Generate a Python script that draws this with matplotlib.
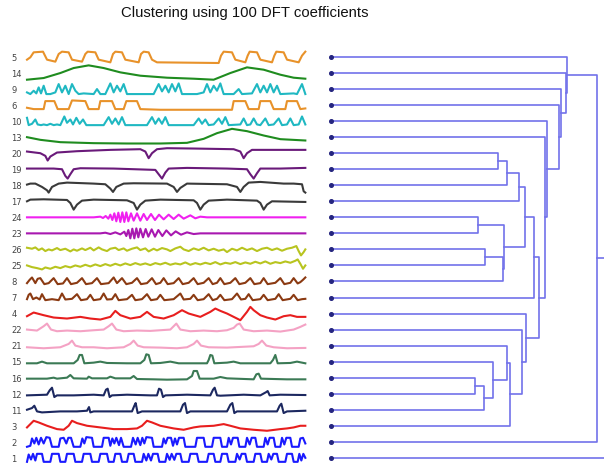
import matplotlib.pyplot as plt

TITLE = "Clustering using 100 DFT coefficients"

# leaf order of the dendrogram, top to bottom
leaf_order = ["5", "14", "9", "6", "10", "13", "20", "19", "18", "17", "24", "23", "26",
              "25", "8", "7", "4", "22", "21", "15", "16", "12", "11", "3", "2", "1"]

# traces as (time step, value) pairs
s5 = [(0, -8), (10, -1), (20, 14), (48, 16), (60, -8), (85, -14), (95, 9), (105, 16), (125, 14),
      (135, -8), (165, -14), (175, 9), (182, 16), (205, 14), (215, -8), (250, -16), (258, 9),
      (265, 16), (285, 14), (295, -8), (335, -16), (342, 9), (350, 16), (365, 14), (375, -8),
      (390, -16), (575, -18), (582, 4), (590, 16), (615, 14), (625, -8), (655, -16), (662, 4),
      (668, 16), (690, 14), (700, -8), (735, -16), (742, 4), (748, 16), (770, 14), (780, -8),
      (815, -16), (825, 4), (835, 16)]
s14 = [(0, -20), (50, -15), (100, 0), (140, 15), (185, 23), (230, 15), (280, 2), (340, -8),
       (420, -14), (500, -17), (560, -20), (610, 0), (660, 17), (710, 10), (760, -5), (800, -14),
       (835, -17)]
s9 = [(0, -10), (10, -15), (20, -5), (28, -13), (35, 5), (42, -13), (50, 10), (58, -15), (70, -15),
      (85, -10), (95, 15), (105, -10), (115, 10), (125, -15), (135, 15), (145, -5), (155, -15),
      (170, -13), (200, -15), (210, 0), (220, -15), (235, -15), (250, 17), (260, -10), (270, 10),
      (280, -7), (290, 15), (300, -15), (315, -15), (380, -15), (395, 15), (405, -7), (415, 10),
      (425, -10), (435, 15), (445, -7), (455, 17), (465, -15), (510, -15), (530, -10), (540, 15),
      (550, -10), (560, 10), (570, -5), (580, 17), (590, -15), (620, -15), (635, 0), (645, -15),
      (675, -13), (690, 15), (700, -10), (710, 10), (720, -10), (730, 15), (740, -10), (750, 10),
      (760, -15), (800, -13), (810, -15), (820, 5), (825, 15), (835, -15)]
s6 = [(0, -8), (20, -12), (50, -12), (55, 12), (82, 12), (92, -12), (125, -12), (135, 14),
      (175, 12), (185, -12), (215, -12), (220, 12), (255, 12), (265, -12), (290, -12), (298, 12),
      (330, 12), (340, -12), (400, -14), (615, -14), (620, 12), (655, 12), (665, -12), (695, -12),
      (700, 12), (730, 12), (740, -12), (775, -12), (780, 12), (810, 12), (820, -12), (835, -10)]
s10 = [(0, 10), (5, -12), (15, -8), (25, 5), (32, -10), (42, -12), (50, -10), (60, -12), (70, -8),
       (80, -12), (90, -10), (100, -12), (112, 14), (120, -5), (130, 5), (138, -10), (148, 10),
       (158, -8), (168, 5), (178, -12), (230, -12), (245, 12), (255, -8), (265, 8), (275, -10),
       (285, 12), (295, -12), (360, -12), (375, 12), (385, -8), (395, 8), (405, -8), (415, 12),
       (425, -12), (500, -12), (515, 8), (525, -8), (535, 5), (545, -12), (560, -10), (575, 8),
       (585, -8), (595, 12), (605, -12), (640, -10), (650, 8), (660, -12), (670, -10), (680, 8),
       (690, -10), (700, -12), (715, 8), (725, -12), (740, -10), (755, 8), (765, -12), (780, -10),
       (790, 8), (800, -12), (815, -10), (825, 14), (835, -10)]
s13 = [(0, 0), (40, -8), (100, -15), (200, -18), (300, -19), (400, -19), (480, -17), (530, -5),
       (570, 12), (615, 25), (660, 18), (710, 5), (760, -6), (835, -10)]
s20 = [(0, 5), (40, 0), (55, -8), (62, -22), (70, -10), (90, 2), (150, 6), (250, 10), (340, 12),
       (355, 5), (365, -15), (375, 0), (390, 12), (420, 15), (500, 14), (620, 12), (640, 5),
       (650, -15), (660, 0), (675, 10), (740, 10), (835, 10)]
s19 = [(0, 2), (80, 2), (105, 0), (115, -20), (122, -28), (130, -15), (140, 0), (160, 3), (260, 2),
       (385, -2), (395, -15), (405, -28), (415, -10), (425, 2), (480, 4), (600, 2), (660, 0),
       (670, -15), (680, -28), (690, -12), (700, 2), (760, 2), (835, 4)]
s18 = [(0, 2), (10, 5), (25, 5), (45, -5), (60, -15), (65, -22), (75, -5), (95, 5), (120, 8),
       (200, 5), (235, 3), (250, -10), (258, -20), (268, -5), (290, 5), (320, 6), (420, 5),
       (440, -5), (450, -20), (460, -8), (480, 5), (600, 3), (630, -5), (640, -20), (650, -5),
       (665, 8), (700, 10), (770, 5), (800, 5), (825, 3), (830, -18), (835, -22)]
s17 = [(0, 0), (10, 5), (50, 6), (120, 4), (130, -5), (140, -25), (150, -10), (165, 2), (200, 5),
       (300, 3), (320, -5), (330, -25), (340, -10), (355, 2), (400, 5), (500, 3), (510, -5),
       (520, -25), (530, -10), (545, 2), (600, 5), (690, 2), (700, -5), (710, -25), (720, -10),
       (735, 0), (835, -2)]
s24 = [(0, 0), (200, 0), (220, 2), (228, -2), (236, 4), (244, -4), (250, 8), (256, -8), (262, 12),
       (268, -12), (274, 14), (280, -14), (286, 15), (292, -14), (298, 15), (304, -12), (312, 12),
       (320, -10), (330, 12), (340, -10), (350, 10), (360, -8), (372, 10), (384, -8), (396, 8),
       (410, -6), (425, 8), (440, -5), (455, 8), (470, -4), (490, 6), (505, -3), (520, 2),
       (540, 0), (835, 0)]
s23 = [(0, 0), (220, 0), (235, 2), (250, -2), (265, 3), (280, -3), (292, 5), (298, -8), (304, 10),
       (310, -15), (316, 14), (322, -15), (328, 15), (334, -12), (340, 14), (348, -12), (356, 13),
       (364, -10), (374, 12), (384, -10), (394, 10), (406, -8), (418, 9), (432, -6), (446, 6),
       (462, -4), (480, 3), (500, -2), (520, 0), (835, 0)]
s26 = [(0, 5), (15, 2), (25, 6), (35, -2), (45, 3), (55, -5), (65, 0), (75, -3), (90, 4),
       (100, -2), (115, 2), (130, -6), (140, 0), (150, -4), (165, 3), (175, -2), (190, 5),
       (200, -3), (215, 6), (225, 0), (240, -5), (250, 2), (265, 5), (275, -2), (290, 3),
       (300, -4), (315, 2), (330, 6), (340, -2), (355, 3), (365, -6), (380, 2), (390, -3),
       (405, 4), (420, 0), (430, -5), (445, 3), (460, 8), (470, 0), (485, -5), (500, 3),
       (515, -2), (530, 5), (545, -3), (560, 2), (575, -4), (590, 0), (600, -8), (615, 2),
       (630, -3), (645, 5), (660, -2), (675, 3), (690, -5), (705, 2), (720, 5), (735, -2),
       (750, 3), (765, -4), (780, 2), (795, 5), (808, 10), (815, -5), (822, -18), (830, -8),
       (835, 0)]
s25 = [(0, 0), (15, -5), (30, -8), (45, -12), (55, -6), (70, -10), (85, -4), (100, -8), (115, -2),
       (130, -6), (145, 0), (160, -4), (175, 2), (190, -3), (205, 3), (220, -2), (235, 4),
       (250, -1), (265, 5), (280, 0), (295, 6), (310, 1), (325, 7), (340, 2), (355, 6), (370, 1),
       (385, 7), (400, 3), (415, 8), (430, 2), (445, 6), (460, 3), (475, 9), (490, 2), (505, 7),
       (520, 3), (535, 8), (550, 4), (565, 10), (580, 3), (595, 8), (610, 5), (625, 10), (640, 4),
       (655, 9), (670, 5), (685, 11), (700, 6), (715, 12), (730, 5), (745, 10), (760, 7),
       (775, 12), (790, 8), (805, 14), (812, 18), (820, 5), (828, -10), (835, 0)]
s8 = [(0, -5), (8, 5), (15, 12), (25, -5), (32, 8), (40, 10), (52, -8), (65, -5), (80, 10),
      (92, -8), (108, -6), (120, 10), (132, -8), (150, -4), (165, 10), (177, -8), (195, -5),
      (210, 10), (222, -8), (245, -5), (260, 12), (270, -5), (285, 10), (298, -8), (315, -4),
      (330, 10), (342, -8), (360, -5), (375, 10), (387, -8), (400, -4), (410, 10), (422, -8),
      (440, -5), (455, 10), (467, -8), (485, -4), (500, 10), (512, -8), (530, -4), (545, 10),
      (557, -8), (570, -4), (580, 10), (592, -8), (610, -4), (625, 10), (637, -8), (655, -4),
      (670, 10), (682, -8), (700, -5), (710, 10), (722, -8), (745, -4), (760, 10), (772, -8),
      (790, -4), (800, 10), (812, -6), (820, -2), (828, 5), (835, 12)]
s7 = [(0, -5), (5, 8), (10, 12), (18, -5), (28, 0), (38, -6), (45, 10), (55, -8), (75, -5),
      (95, -8), (105, 12), (115, -6), (135, -4), (150, 10), (162, -8), (180, -5), (190, 8),
      (200, -8), (220, -5), (230, 12), (240, -6), (255, -5), (265, 10), (275, -8), (300, -5),
      (315, 8), (325, -8), (345, -5), (360, 10), (372, -8), (390, -5), (400, 8), (412, -8),
      (440, -5), (460, 12), (470, -6), (490, -4), (500, 8), (512, -8), (530, -5), (545, 10),
      (557, -8), (570, -4), (580, 8), (592, -8), (615, -5), (630, 12), (642, -6), (655, -4),
      (665, 10), (677, -8), (700, -5), (710, 8), (722, -8), (745, -4), (755, 10), (767, -8),
      (790, -4), (800, 8), (812, -8), (825, -5), (835, -4)]
s4 = [(0, -8), (20, 3), (50, -5), (80, -12), (120, -15), (160, -10), (190, -15), (220, -18),
      (250, -10), (265, 8), (280, -5), (310, -15), (340, -10), (360, 5), (380, -10), (410, -15),
      (440, -5), (465, 10), (485, 0), (520, -10), (550, 5), (565, 15), (580, 8), (600, 0),
      (640, -20), (660, 5), (670, 20), (680, 10), (700, -5), (720, -12), (745, -18), (770, -8),
      (790, -5), (810, -10), (835, -10)]
s22 = [(0, 0), (30, -3), (50, 10), (60, 18), (72, 0), (90, -5), (120, -3), (160, -5), (200, -2),
       (230, 0), (245, 10), (255, 18), (268, 0), (290, -5), (330, -3), (370, -4), (400, -2),
       (430, 0), (440, 10), (448, 18), (460, 0), (490, -5), (530, -3), (570, -5), (600, -2),
       (620, 5), (630, 15), (638, 18), (650, 0), (680, -5), (720, -3), (760, -6), (800, 0),
       (820, 8), (835, 15)]
s21 = [(0, -5), (50, -8), (100, -5), (125, 5), (135, 15), (145, 0), (165, -5), (200, -5),
       (240, -8), (290, -5), (310, 5), (320, 15), (332, 0), (350, -5), (400, -6), (450, -8),
       (480, -5), (500, 5), (510, 15), (522, 0), (545, -5), (600, -6), (640, -4), (680, -2),
       (695, 5), (705, 15), (718, 0), (740, -5), (780, -8), (835, -7)]
s15 = [(0, -5), (30, -5), (45, 0), (60, -5), (140, -5), (152, 5), (158, 20), (165, 20),
       (172, -5), (200, -3), (220, 0), (240, -4), (300, -5), (340, -5), (352, 5), (358, 22),
       (365, 20), (372, -5), (400, -4), (430, 0), (455, -5), (540, -5), (545, 5), (550, 20),
       (556, 18), (562, -5), (600, -3), (620, 0), (640, -5), (730, -5), (738, 5), (745, 20),
       (752, -5), (790, -4), (810, 0), (825, -3), (835, -5)]
s16 = [(0, -3), (60, -3), (80, 0), (90, -3), (120, 0), (130, 8), (140, -2), (180, -3), (185, 3),
       (195, -2), (240, -2), (250, 3), (265, -2), (310, -2), (320, 5), (330, -4), (380, -5),
       (420, -6), (480, -5), (495, 5), (500, 20), (510, 20), (518, -3), (560, -3), (580, 2),
       (600, -2), (680, -5), (688, 10), (695, 12), (702, -3), (740, -4), (780, -5), (835, -5)]
s12 = [(0, -5), (60, -3), (68, 10), (75, 18), (82, -10), (90, -5), (140, -5), (200, -3),
       (230, -5), (237, 12), (242, 15), (248, -10), (255, -5), (300, -3), (370, -5), (390, -5),
       (396, 15), (402, 12), (408, -10), (415, -5), (480, -3), (550, -5), (558, 12), (563, 18),
       (570, -5), (580, -6), (650, -3), (700, -5), (718, 5), (722, 8), (728, -5), (760, -3),
       (835, -4)]
s11 = [(0, 0), (15, 5), (22, 12), (30, -5), (45, -8), (100, -5), (150, -5), (180, -3), (186, 8),
       (190, -8), (200, -5), (260, -5), (315, -5), (322, 12), (326, 20), (332, -10), (345, -5),
       (400, -5), (460, -5), (468, 15), (474, 20), (480, -10), (490, -5), (560, -5), (600, -5),
       (610, 15), (616, 20), (622, -10), (630, -5), (700, -5), (750, -5), (758, 12), (763, 18),
       (770, -10), (780, -5), (835, -3)]
s3 = [(0, -5), (20, 15), (35, 10), (60, 0), (90, -10), (110, -12), (125, 0), (135, 15), (150, 8),
      (180, 0), (220, -5), (260, -10), (300, -10), (330, -8), (345, 0), (360, 15), (375, 10),
      (400, 0), (440, -8), (470, -12), (500, -5), (520, -2), (560, 0), (590, 5), (610, 0),
      (640, -8), (680, -12), (720, -15), (760, -10), (780, -8), (800, -5), (820, 0), (835, 0)]
s2 = [(0, -15), (10, -12), (15, 10), (22, -5), (28, 12), (35, -8), (42, 12), (50, -5), (58, 14),
      (68, 12), (75, -15), (95, -15), (100, 10), (110, 12), (118, -5), (124, 12), (132, 12),
      (140, -15), (160, -15), (166, 10), (172, -5), (178, 14), (195, 12), (200, -15), (225, -15),
      (230, 12), (245, 12), (250, -12), (256, 10), (262, -5), (268, 12), (276, -10), (282, 12),
      (290, -15), (312, -15), (318, 12), (326, -8), (332, 12), (340, -10), (346, 12), (352, -5),
      (358, 14), (375, 12), (380, -15), (405, -15), (410, 10), (416, -5), (422, 12), (432, 12),
      (438, -12), (444, 10), (450, -8), (456, 12), (470, 12), (475, -15), (505, -15), (510, 12),
      (530, 12), (535, -15), (555, -15), (560, 12), (580, 12), (585, -15), (600, -15), (605, 12),
      (612, -8), (618, 12), (632, 12), (637, -15), (655, -15), (660, 12), (668, -8), (674, 12),
      (685, 12), (690, -15), (710, -15), (715, 12), (722, -8), (728, 12), (740, 12), (745, -15),
      (760, -15), (765, 12), (772, -8), (778, 12), (790, 12), (795, -15), (815, -15), (820, 10),
      (828, 12), (835, -5)]
s1 = [(0, -12), (5, 10), (12, -5), (18, 12), (25, -8), (30, 12), (45, 12), (50, -12), (70, -12),
      (75, 12), (95, 12), (100, -12), (115, -12), (120, 12), (140, 12), (145, -12), (165, -12),
      (170, 12), (190, 12), (195, -12), (215, -12), (220, 12), (240, 12), (245, -12), (260, -12),
      (265, 12), (280, 12), (285, -12), (300, -12), (305, 12), (320, 12), (325, -12), (345, -12),
      (350, 12), (358, -8), (364, 12), (372, -8), (378, 12), (392, 12), (397, -12), (415, -12),
      (420, 12), (428, -6), (434, 12), (442, -6), (448, 12), (460, 12), (465, -12), (485, -12),
      (490, 12), (510, 12), (515, -12), (540, -12), (545, 12), (560, 12), (565, -12), (580, -12),
      (585, 12), (600, 12), (605, -12), (625, -12), (630, 12), (638, -5), (644, 12), (655, 12),
      (660, -12), (680, -12), (685, 12), (700, 12), (705, -12), (720, -12), (725, 12), (733, -5),
      (739, 12), (750, 12), (755, -12), (775, -12), (780, 12), (795, 12), (800, -12), (812, -12),
      (817, 12), (823, -8), (829, 12), (835, 0)]

# agglomerative merges: (left, right, distance); merge k is named "m<k>"
merges = [("24", "23", 1.47), ("26", "25", 1.54), ("m1", "8", 1.72), ("m0", "m2", 1.73),
          ("20", "19", 1.67), ("m4", "18", 1.76), ("m5", "17", 1.88), ("m6", "m3", 1.94),
          ("m7", "7", 2.03), ("16", "12", 1.44), ("m9", "11", 1.53), ("15", "m10", 1.62),
          ("21", "m11", 1.76), ("m12", "3", 1.79), ("22", "m13", 1.91), ("4", "m14", 1.95),
          ("m8", "m15", 2.08), ("13", "m16", 2.14), ("10", "m17", 2.16), ("6", "m18", 2.28),
          ("9", "m19", 2.30), ("14", "m20", 2.35), ("5", "m21", 2.36), ("m22", "2", 2.66),
          ("m23", "1", 2.80)]

series = {"5": s5, "14": s14, "9": s9, "6": s6, "10": s10, "13": s13, "20": s20, "19": s19,
          "18": s18, "17": s17, "24": s24, "23": s23, "26": s26, "25": s25, "8": s8, "7": s7,
          "4": s4, "22": s22, "21": s21, "15": s15, "16": s16, "12": s12, "11": s11, "3": s3,
          "2": s2, "1": s1}

colors = {"5": "#e8922a", "6": "#e8922a", "14": "#1f8c1f", "13": "#1f8c1f",
          "9": "#1fb8c2", "10": "#1fb8c2", "20": "#6a1a7a", "19": "#6a1a7a",
          "18": "#3a3a3a", "17": "#3a3a3a", "24": "#f020f0", "23": "#a818b0",
          "26": "#b8c41f", "25": "#b8c41f", "8": "#8b3a12", "7": "#8b3a12",
          "4": "#e81e1e", "3": "#e81e1e", "22": "#f4a2c4", "21": "#f4a2c4",
          "15": "#3b7a55", "16": "#3b7a55", "12": "#1c2860", "11": "#1c2860",
          "2": "#1a1aff", "1": "#1a1aff"}

ROW = 48.1
LINK_COLOR = "#7272ea"

fig = plt.figure(figsize=(6.04, 4.69), dpi=100)
fig.patch.set_facecolor("white")

fig.text(0.406, 0.973, TITLE, ha="center", va="center", fontsize=10.7,
         family="Liberation Sans", color="#111111")

# left panel: the time series
ax_ts = fig.add_axes([0, 0, 310 / 604, 429 / 469])
for i, name in enumerate(leaf_order):
    t, v = zip(*series[name])
    base = -ROW * i
    ax_ts.plot(t, [base + val for val in v], color=colors[name], lw=1.5, solid_joinstyle="round")
    ax_ts.text(-47, base - 4, name, ha="left", va="center", fontsize=6, color="#444444",
               family="DejaVu Sans")
ax_ts.set_xlim(-81, 849)
ax_ts.set_ylim(-1236, 51)
ax_ts.axis("off")

# right panel: the dendrogram
ax_dn = fig.add_axes([320 / 604, 0, 284 / 604, 429 / 469])
pos = {name: (0.0, -ROW * i) for i, name in enumerate(leaf_order)}
for k, (a, b, h) in enumerate(merges):
    xa, ya = pos[a]
    xb, yb = pos[b]
    ax_dn.plot([xa, h, h, xb], [ya, ya, yb, yb], color=LINK_COLOR, lw=1.2)
    pos[f"m{k}"] = (h, (ya + yb) / 2)
ax_dn.plot([0.0] * len(leaf_order), [-ROW * i for i in range(len(leaf_order))], "o",
           ms=2.6, color="#25257f", zorder=3)
ax_dn.set_xlim(-0.11, 2.73)
ax_dn.set_ylim(-1236, 51)
ax_dn.axis("off")

fig.savefig("out.png", dpi=100, facecolor="white")
